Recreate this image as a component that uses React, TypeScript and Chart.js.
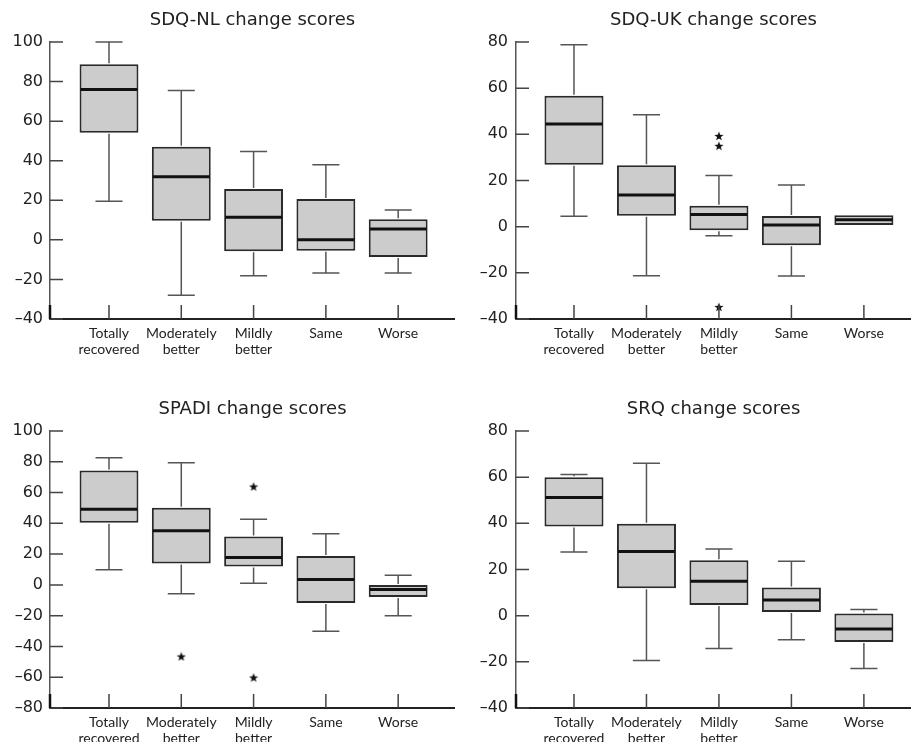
import React, { useEffect, useRef } from 'react';
import { Chart, registerables } from 'chart.js';
Chart.register(...registerables);

const categories: string[][] = [['Totally', 'recovered'], ['Moderately', 'better'], ['Mildly', 'better'], ['Same'], ['Worse']];

// SDQ-NL
const sdqNlTitle = 'SDQ-NL change scores';
const sdqNlMin = [19.5, -28, -18.2, -16.8, -16.8];
const sdqNlQ1 = [54.1, 9.7, -5.7, -5.5, -8.7];
const sdqNlMed = [76, 31.9, 11.4, 0, 5.5];
const sdqNlQ3 = [88.7, 47.1, 25.7, 20.7, 10.4];
const sdqNlMax = [100, 75.5, 44.7, 38, 15.1];
const sdqNlOutX: number[] = [];
const sdqNlOutY: number[] = [];
const sdqNlTicks = [-40, -20, 0, 20, 40, 60, 80, 100];

// SDQ-UK
const sdqUkTitle = 'SDQ-UK change scores';
const sdqUkMin = [4.5, -21.3, -3.9, -21.4, 0.7];
const sdqUkQ1 = [26.8, 4.7, -1.6, -8.1, 0.7];
const sdqUkMed = [44.5, 13.7, 5.3, 0.7, 3.0];
const sdqUkQ3 = [56.7, 26.6, 9.1, 4.6, 4.9];
const sdqUkMax = [78.8, 48.5, 22.2, 18, 4.9];
const sdqUkOutX = [3, 3, 3];
const sdqUkOutY = [39.3, 35.0, -34.8];
const sdqUkTicks = [-40, -20, 0, 20, 40, 60, 80];

// SPADI
const spadiTitle = 'SPADI change scores';
const spadiMin = [9.8, -5.7, 1.1, -30.2, -20];
const spadiQ1 = [40.4, 13.9, 12, -11.7, -7.8];
const spadiMed = [49.1, 35.2, 17.8, 3.5, -3];
const spadiQ3 = [74.4, 50.2, 31.5, 18.7, 0];
const spadiMax = [82.6, 79.4, 42.6, 33.3, 6.3];
const spadiOutX = [2, 3, 3];
const spadiOutY = [-46.5, 63.9, -60.2];
const spadiTicks = [-80, -60, -40, -20, 0, 20, 40, 60, 80, 100];

// SRQ
const srqTitle = 'SRQ change scores';
const srqMin = [27.6, -19.4, -14.2, -10.4, -22.9];
const srqQ1 = [38.6, 11.9, 4.6, 1.6, -11.4];
const srqMed = [51.2, 27.8, 14.9, 6.8, -5.8];
const srqQ3 = [60, 39.8, 24, 12.2, 0.9];
const srqMax = [61.2, 66, 28.9, 23.6, 2.7];
const srqOutX: number[] = [];
const srqOutY: number[] = [];
const srqTicks = [-40, -20, 0, 20, 40, 60, 80];

const FONT = '"DejaVu Sans", sans-serif';
const LABEL_FONT = 'Lato, "DejaVu Sans", sans-serif';

function makeStar(): HTMLCanvasElement {
  const c = document.createElement('canvas');
  c.width = 10;
  c.height = 10;
  const g = c.getContext('2d')!;
  g.fillStyle = '#111';
  g.beginPath();
  for (let i = 0; i < 10; i++) {
    const r = i % 2 === 0 ? 4.8 : 2.0;
    const a = -Math.PI / 2 + (i * Math.PI) / 5;
    const px = 5 + r * Math.cos(a);
    const py = 5.4 + r * Math.sin(a);
    if (i === 0) g.moveTo(px, py);
    else g.lineTo(px, py);
  }
  g.closePath();
  g.fill();
  return c;
}

interface PanelProps {
  title: string;
  mins: number[];
  q1: number[];
  med: number[];
  q3: number[];
  maxs: number[];
  outX: number[];
  outY: number[];
  ticks: number[];
  left: number;
  top: number;
  width: number;
  height: number;
  yAxisWidth: number;
  yPad: number;
  xMin: number;
  xMax: number;
}

function fmt(v: number): string {
  return v < 0 ? '\u2013' + Math.abs(v) : String(v);
}

function Panel(p: PanelProps) {
  const ref = useRef<HTMLCanvasElement>(null);
  useEffect(() => {
    const canvas = ref.current!;
    const star = makeStar();
    const boxPlugin = {
      id: 'boxStats' + p.title,
      afterDatasetsDraw(chart: any) {
        const xs = chart.scales.x;
        const ys = chart.scales.y;
        const meta = chart.getDatasetMeta(0);
        const ctx = chart.ctx;
        ctx.save();
        for (let i = 0; i < p.med.length; i++) {
          const bar = meta.data[i];
          const cx = xs.getPixelForValue(i + 1);
          const half = bar.width / 2;
          const capHalf = xs.getPixelForValue(i + 1 + 0.187) - cx;
          const yMax = ys.getPixelForValue(p.maxs[i]);
          const yMin = ys.getPixelForValue(p.mins[i]);
          const yQ1 = ys.getPixelForValue(p.q1[i]);
          const yQ3 = ys.getPixelForValue(p.q3[i]);
          const yMed = ys.getPixelForValue(p.med[i]);
          ctx.strokeStyle = '#555';
          ctx.lineWidth = 1.5;
          ctx.beginPath();
          if (p.maxs[i] > p.q3[i]) {
            ctx.moveTo(cx, yQ3 - 1);
            ctx.lineTo(cx, yMax);
            ctx.moveTo(cx - capHalf, yMax);
            ctx.lineTo(cx + capHalf, yMax);
          }
          if (p.mins[i] < p.q1[i]) {
            ctx.moveTo(cx, yQ1 + 1);
            ctx.lineTo(cx, yMin);
            ctx.moveTo(cx - capHalf, yMin);
            ctx.lineTo(cx + capHalf, yMin);
          }
          ctx.stroke();
          ctx.strokeStyle = '#111';
          ctx.lineWidth = 3;
          ctx.beginPath();
          ctx.moveTo(cx - half + 1, yMed);
          ctx.lineTo(cx + half - 1, yMed);
          ctx.stroke();
        }
        // tick marks (inward)
        const area = chart.chartArea;
        ctx.strokeStyle = '#444';
        ctx.lineWidth = 1.5;
        ctx.beginPath();
        for (const t of ys.ticks) {
          const py = ys.getPixelForValue(t.value);
          ctx.moveTo(area.left, py);
          ctx.lineTo(area.left + 13, py);
        }
        for (const t of xs.ticks) {
          const px = xs.getPixelForValue(t.value);
          ctx.moveTo(px, area.bottom);
          ctx.lineTo(px, area.bottom - 14);
        }
        ctx.stroke();
        ctx.strokeStyle = '#111';
        ctx.lineWidth = 2.5;
        ctx.beginPath();
        ctx.moveTo(area.left, area.bottom);
        ctx.lineTo(area.left, area.bottom - 14);
        ctx.stroke();
        ctx.restore();
      },
    };
    const chart = new Chart(canvas, {
      type: 'bar',
      data: {
        datasets: [
          {
            type: 'bar',
            data: categories.map((_, i) => ({ x: i + 1, y: [p.q1[i], p.q3[i]] })) as any,
            backgroundColor: '#cccccc',
            borderColor: '#2a2a2a',
            borderWidth: 2,
            borderSkipped: false,
            categoryPercentage: 0.9,
            barPercentage: 0.905,
          } as any,
          {
            type: 'scatter',
            data: p.outX.map((x, i) => ({ x, y: p.outY[i] })),
            pointStyle: star as any,
            pointRadius: 5,
            clip: false,
          } as any,
        ],
      },
      options: {
        responsive: false,
        animation: false,
        events: [],
        layout: { padding: 0, autoPadding: false },
        plugins: {
          legend: { display: false },
          tooltip: { enabled: false },
          title: {
            display: true,
            text: p.title,
            fullSize: false,
            color: '#222',
            font: { family: FONT, size: 18, weight: 'normal' as any, lineHeight: 1.2 },
            padding: { top: 9.2, bottom: 11.2 },
          },
        },
        scales: {
          x: {
            type: 'linear',
            offset: false,
            min: p.xMin,
            max: p.xMax,
            afterBuildTicks: (s: any) => {
              s.ticks = categories.map((_, i) => ({ value: i + 1 }));
            },
            afterFit: (s: any) => {
              s.height = p.height - 319;
            },
            grid: { display: false, drawTicks: false, tickLength: 0 },
            border: { display: true, color: '#222', width: 2 },
            ticks: {
              autoSkip: false,
              maxRotation: 0,
              padding: 6,
              color: '#222',
              font: { family: LABEL_FONT, size: 14, lineHeight: 1.15 },
              callback: (v: any) => categories[Math.round(Number(v)) - 1] || '',
            },
          },
          y: {
            type: 'linear',
            min: p.ticks[0],
            max: p.ticks[p.ticks.length - 1],
            afterBuildTicks: (s: any) => {
              s.ticks = p.ticks.map((v) => ({ value: v }));
            },
            afterFit: (s: any) => {
              s.width = p.yAxisWidth;
            },
            grid: { display: false, drawTicks: false, tickLength: 0 },
            border: { display: true, color: '#555', width: 1.5 },
            ticks: {
              autoSkip: false,
              padding: p.yPad,
              color: '#222',
              font: { family: FONT, size: 16 },
              callback: (v: any) => fmt(Number(v)),
            },
          },
        },
      } as any,
      plugins: [boxPlugin],
    });
    return () => chart.destroy();
  }, []);
  return (
    <canvas
      ref={ref}
      width={p.width}
      height={p.height}
      style={{ position: 'absolute', left: p.left, top: p.top, width: p.width, height: p.height }}
    />
  );
}

export default function App() {
  return (
    <div style={{ position: 'fixed', left: 0, top: 0, width: 911, height: 742, overflow: 'hidden', background: '#fff' }}>
      <Panel title={sdqNlTitle} mins={sdqNlMin} q1={sdqNlQ1} med={sdqNlMed} q3={sdqNlQ3} maxs={sdqNlMax}
        outX={sdqNlOutX} outY={sdqNlOutY} ticks={sdqNlTicks}
        left={0} top={0} width={455} height={370} yAxisWidth={50} yPad={7} xMin={0.184} xMax={5.786} />
      <Panel title={sdqUkTitle} mins={sdqUkMin} q1={sdqUkQ1} med={sdqUkMed} q3={sdqUkQ3} maxs={sdqUkMax}
        outX={sdqUkOutX} outY={sdqUkOutY} ticks={sdqUkTicks}
        left={455} top={0} width={456} height={370} yAxisWidth={61} yPad={8} xMin={0.2} xMax={5.65} />
      <Panel title={spadiTitle} mins={spadiMin} q1={spadiQ1} med={spadiMed} q3={spadiQ3} maxs={spadiMax}
        outX={spadiOutX} outY={spadiOutY} ticks={spadiTicks}
        left={0} top={389} width={455} height={370} yAxisWidth={50} yPad={7} xMin={0.184} xMax={5.786} />
      <Panel title={srqTitle} mins={srqMin} q1={srqQ1} med={srqMed} q3={srqQ3} maxs={srqMax}
        outX={srqOutX} outY={srqOutY} ticks={srqTicks}
        left={455} top={389} width={456} height={370} yAxisWidth={61} yPad={8} xMin={0.2} xMax={5.65} />
    </div>
  );
}
